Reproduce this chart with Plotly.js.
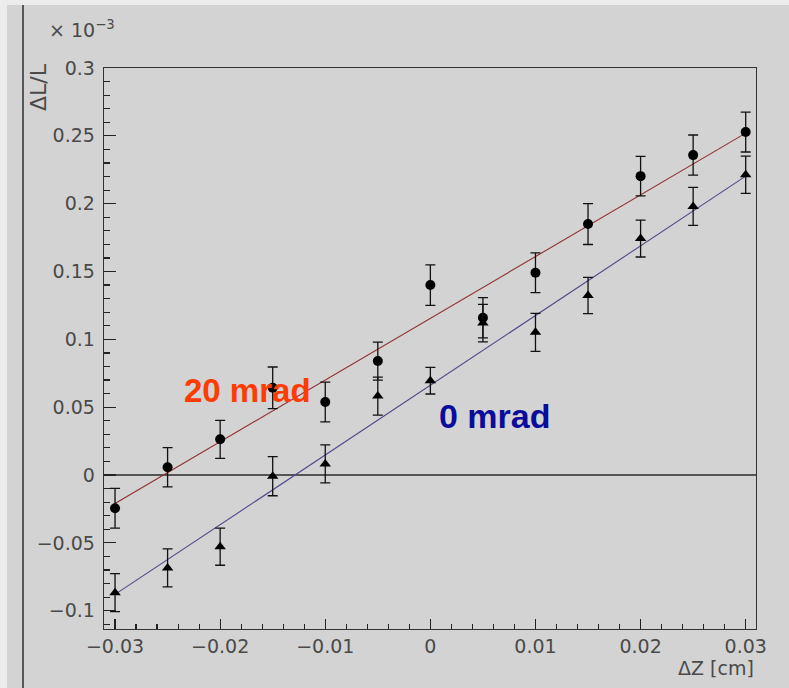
<!DOCTYPE html>
<html>
<head>
<meta charset="utf-8">
<script src="https://cdn.plot.ly/plotly-3.0.1.min.js"></script>
<style>html,body{margin:0;padding:0;background:#d3d3d3;}#chart{width:789px;height:688px;}</style>
</head>
<body>
<div id="chart"></div>
<script>
// ΔZ positions [cm]
const dz = [-0.03, -0.025, -0.02, -0.015, -0.01, -0.005, 0, 0.005, 0.01, 0.015, 0.02, 0.025, 0.03];
// 20 mrad series (circles), ΔL/L in units of 1e-3
const y20 = [-0.0245, 0.0057, 0.0263, 0.0643, 0.0538, 0.084, 0.140, 0.1159, 0.1491, 0.185, 0.2203, 0.2358, 0.2528];
const e20 = [0.0147, 0.0145, 0.014, 0.0153, 0.0146, 0.014, 0.0149, 0.0148, 0.0146, 0.0151, 0.0145, 0.0148, 0.0147];
// 0 mrad series (triangles)
const y0 = [-0.0867, -0.0685, -0.0528, -0.0009, 0.0082, 0.0582, 0.0695, 0.112, 0.1052, 0.1323, 0.1743, 0.198, 0.2213];
const e0 = [0.014, 0.014, 0.0137, 0.0144, 0.014, 0.014, 0.0098, 0.0138, 0.014, 0.0134, 0.0136, 0.014, 0.0137];
// linear fit end points
const fitX = [-0.03, 0.03];
const fit20 = [-0.021, 0.252];
const fit0 = [-0.088, 0.2203];

const W = 789, H = 688, L = 104, R = 33, T = 68, B = 59;
const pw = W - L - R, ph = H - T - B;
const px = v => (v - L) / pw;
const py = v => (H - B - v) / ph;

const font = 'DejaVu Sans, Arial, sans-serif';
const txt = '#4a4a4a';

const traces = [
  {x: fitX, y: fit20, mode: 'lines', line: {color: '#8e2f2f', width: 1.1}, hoverinfo: 'skip'},
  {x: fitX, y: fit0, mode: 'lines', line: {color: '#4d4a86', width: 1.1}, hoverinfo: 'skip'},
  {x: dz, y: y20, mode: 'markers', marker: {symbol: 'circle', size: 10, color: '#000'},
   error_y: {type: 'data', array: e20, visible: true, color: '#111', thickness: 1.3, width: 5}},
  {x: dz, y: y0, mode: 'markers', marker: {symbol: 'triangle-up', size: 10, color: '#000'},
   error_y: {type: 'data', array: e0, visible: true, color: '#111', thickness: 1.3, width: 5}}
];

const layout = {
  width: W, height: H,
  margin: {l: L, r: R, t: T, b: B, pad: 0},
  paper_bgcolor: '#d3d3d3', plot_bgcolor: '#d3d3d3',
  showlegend: false,
  font: {family: font, color: txt, size: 19},
  xaxis: {
    range: [-0.03105, 0.03098], dtick: 0.01, tick0: 0,
    ticks: 'inside', ticklen: 10, tickwidth: 1.2, tickcolor: '#222',
    minor: {dtick: 0.002, ticks: 'inside', ticklen: 5, tickwidth: 1.2, tickcolor: '#222'},
    showgrid: false, zeroline: false,
    showline: true, linecolor: '#333', linewidth: 1.3, mirror: true,
    tickfont: {family: font, size: 19, color: txt}, ticklabelstandoff: 0
  },
  yaxis: {
    range: [-0.1135, 0.3], dtick: 0.05, tick0: 0,
    ticks: 'inside', ticklen: 12, tickwidth: 1.2, tickcolor: '#222',
    minor: {dtick: 0.01, ticks: 'inside', ticklen: 6, tickwidth: 1.2, tickcolor: '#222'},
    showgrid: false, zeroline: true, zerolinecolor: '#555', zerolinewidth: 1.3,
    showline: true, linecolor: '#333', linewidth: 1.3, mirror: true,
    tickfont: {family: font, size: 19, color: txt}, ticklabelstandoff: 4
  },
  shapes: [
    {type: 'rect', xref: 'paper', yref: 'paper', x0: px(0), x1: px(7), y0: py(H), y1: py(0), fillcolor: '#ececec', line: {width: 0}, layer: 'below'},
    {type: 'rect', xref: 'paper', yref: 'paper', x0: px(0), x1: px(W), y0: py(5), y1: py(0), fillcolor: '#ececec', line: {width: 0}, layer: 'below'},
    {type: 'line', xref: 'paper', yref: 'paper', x0: px(23), x1: px(23), y0: py(H), y1: py(5), line: {color: '#111', width: 1.3}}
  ],
  annotations: [
    {text: '× 10<sup>−3</sup>', xref: 'paper', yref: 'paper', x: px(47), y: py(29), xanchor: 'left', yanchor: 'middle', showarrow: false, font: {family: font, size: 19, color: txt}},
    {text: 'ΔL/L', xref: 'paper', yref: 'paper', x: px(39), y: py(87), textangle: -90, xanchor: 'center', yanchor: 'middle', showarrow: false, font: {family: font, size: 22, color: txt}},
    {text: 'ΔZ [cm]', xref: 'paper', yref: 'paper', x: px(756), y: py(668), xanchor: 'right', yanchor: 'middle', showarrow: false, font: {family: font, size: 19, color: txt}},
    {text: '<b>20 mrad</b>', xref: 'paper', yref: 'paper', x: px(247), y: py(390), xanchor: 'center', yanchor: 'middle', showarrow: false, font: {family: 'Liberation Sans, Arial, sans-serif', size: 33, color: '#ff3c00'}},
    {text: '<b>0 mrad</b>', xref: 'paper', yref: 'paper', x: px(495), y: py(416), xanchor: 'center', yanchor: 'middle', showarrow: false, font: {family: 'Liberation Sans, Arial, sans-serif', size: 34, color: '#0c0c9c'}}
  ]
};

Plotly.newPlot('chart', traces, layout, {displayModeBar: false, staticPlot: true});
</script>
</body>
</html>
